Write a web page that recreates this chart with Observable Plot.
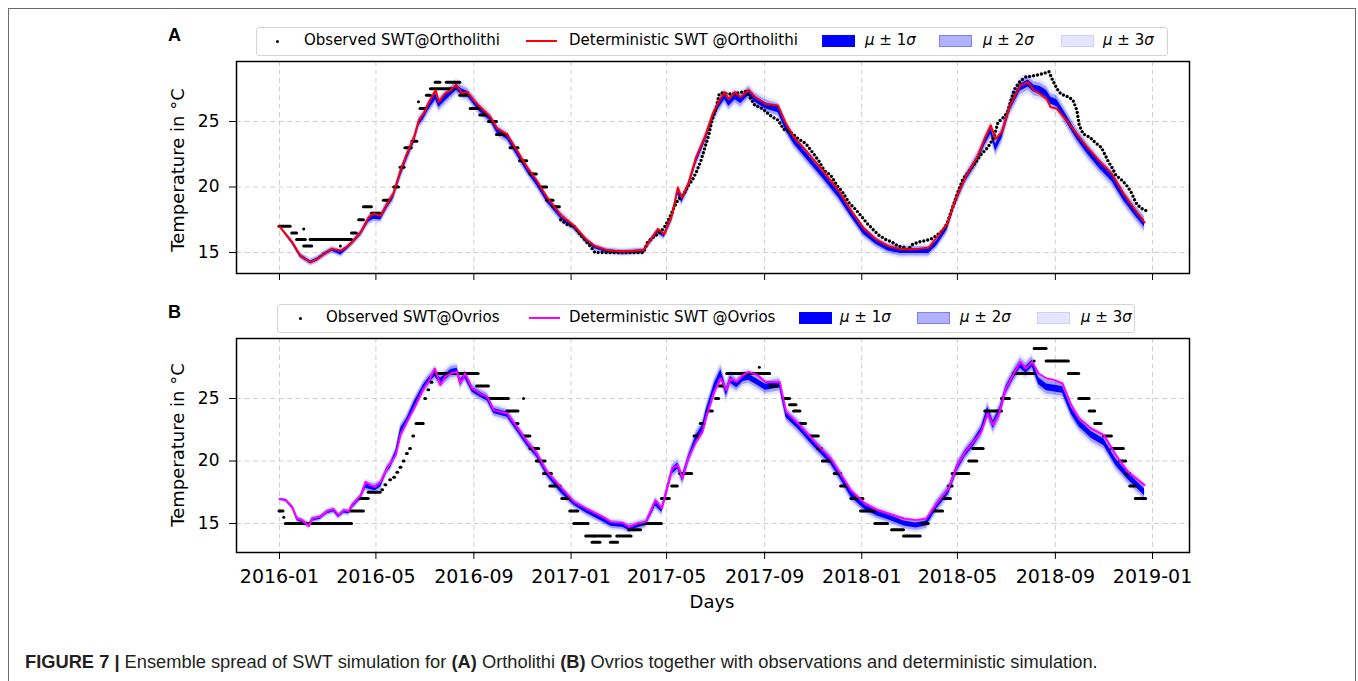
<!DOCTYPE html>
<html><head><meta charset="utf-8">
<script src="https://cdn.jsdelivr.net/npm/d3@7"></script>
<script src="https://cdn.jsdelivr.net/npm/@observablehq/plot@0.6"></script>
<style>
html,body{margin:0;padding:0;background:#fff;overflow:hidden;}
#root{position:relative;width:1358px;height:681px;overflow:hidden;font-family:"DejaVu Sans",sans-serif;color:#000;}
.abs{position:absolute;}
#border{left:8px;top:8px;width:1346px;height:720px;border:1px solid #6b6b6b;}
.svgwrap{position:absolute;left:0;}
.legend{position:absolute;height:27px;border:1px solid #d4d4d4;border-radius:3px;background:#fff;z-index:3;}
.lt{position:absolute;font-size:15px;line-height:18px;white-space:nowrap;z-index:4;}
.sw{position:absolute;width:33px;height:12px;z-index:4;box-sizing:border-box;}
.ln{position:absolute;width:31px;height:2px;z-index:4;}
.dt{position:absolute;width:3px;height:3px;border-radius:50%;background:#000;z-index:4;}
.plab{position:absolute;font-family:"Liberation Sans",Arial,sans-serif;font-weight:bold;font-size:18px;line-height:18px;z-index:4;}
.ylab{position:absolute;font-size:18px;line-height:20px;white-space:nowrap;transform:translate(-50%,-50%) rotate(-90deg);}
.xlab{position:absolute;font-size:18px;line-height:20px;white-space:nowrap;transform:translate(-50%,-50%);}
#caption{position:absolute;left:25px;top:652px;font-family:"Liberation Sans",Arial,sans-serif;font-size:18.3px;line-height:20px;color:#231f20;white-space:nowrap;}
</style>
</head><body>
<div id="root">
  <div id="border" class="abs"></div>
</div>
<script>
// ---------------- DATA ----------------
// days counted from 2016-01-01
const tickLabels = ["2016-01","2016-05","2016-09","2017-01","2017-05","2017-09","2018-01","2018-05","2018-09","2019-01"];
const yTicks = [15, 20, 25];

const legendLabelsA = ["Observed SWT@Ortholithi", "Deterministic SWT @Ortholithi"];
const legendLabelsB = ["Observed SWT@Ovrios", "Deterministic SWT @Ovrios"];
const bandLabels = ["1", "2", "3"];

// Panel A: deterministic simulation [day, °C]
const detA = [[0,17.0],[16,15.8],[26,14.77],[39,14.26],[47,14.5],[56,14.9],[66,15.28],[77,15.15],[85,15.46],[91,15.79],[102,16.55],[112,17.7],[118,17.96],[127,17.83],[135,18.7],[143,19.5],[152,21.3],[160,22.55],[169,23.8],[175,25.1],[181,25.6],[187,26.4],[196,27.4],[200,26.5],[208,27.15],[215,27.4],[222,27.8],[229,27.15],[236,27.27],[244,26.6],[252,26.1],[265,25.35],[273,24.5],[286,24.0],[298,22.8],[311,21.5],[323,20.5],[336,19.2],[354,17.8],[370,17.04],[385,16.0],[396,15.5],[411,15.18],[431,15.08],[457,15.18],[465,15.9],[475,16.8],[483,16.4],[493,17.9],[500,19.97],[505,19.2],[513,20.2],[523,22.27],[534,23.8],[544,25.6],[552,26.6],[559,27.24],[564,26.7],[572,27.24],[579,26.86],[589,27.42],[597,26.86],[610,26.35],[626,26.22],[636,24.82],[646,23.8],[661,22.78],[682,21.25],[702,19.72],[718,18.19],[733,16.9],[749,16.0],[764,15.5],[779,15.26],[800,15.26],[815,15.38],[825,16.15],[838,17.17],[848,18.95],[861,20.74],[876,22.27],[886,23.8],[893,24.7],[899,23.67],[907,24.2],[917,26.22],[930,27.76],[940,28.0],[947,27.37],[955,27.1],[963,26.73],[968,26.1],[976,25.97],[988,25.08],[1001,24.06],[1014,23.04],[1029,22.0],[1045,21.0],[1060,19.46],[1075,18.19],[1086,17.3]];

// Panel A: ensemble [day, mean, sigma]
const ensA = [[0,17.0,0.04],[16,15.75,0.09],[26,14.75,0.11],[39,14.25,0.11],[47,14.45,0.11],[56,14.85,0.11],[66,15.2,0.11],[77,14.95,0.13],[85,15.35,0.11],[91,15.7,0.11],[102,16.45,0.13],[112,17.5,0.16],[118,17.7,0.16],[127,17.65,0.16],[135,18.55,0.18],[143,19.3,0.18],[152,21.0,0.2],[160,22.3,0.2],[169,23.6,0.2],[175,24.9,0.2],[181,25.4,0.2],[187,26.1,0.23],[196,26.9,0.23],[200,26.3,0.23],[208,26.8,0.23],[215,27.2,0.23],[222,27.6,0.23],[229,27.25,0.23],[236,27.1,0.2],[244,26.5,0.2],[252,25.9,0.2],[265,25.2,0.18],[273,24.3,0.18],[286,23.8,0.18],[298,22.6,0.18],[311,21.3,0.18],[323,20.3,0.18],[336,19.0,0.18],[354,17.7,0.18],[370,16.9,0.13],[385,15.9,0.13],[396,15.4,0.11],[411,15.1,0.11],[431,15.0,0.11],[457,15.1,0.11],[465,15.8,0.13],[475,16.6,0.13],[483,16.3,0.13],[493,17.7,0.18],[500,19.6,0.18],[505,19.0,0.18],[513,20.0,0.18],[523,22.0,0.2],[534,23.6,0.2],[544,25.3,0.2],[552,26.3,0.23],[559,26.9,0.23],[564,26.4,0.23],[572,26.9,0.23],[579,26.6,0.23],[589,27.2,0.23],[597,26.7,0.23],[610,26.2,0.23],[626,25.9,0.23],[636,24.5,0.23],[646,23.5,0.23],[661,22.4,0.23],[682,20.9,0.23],[702,19.4,0.23],[718,17.9,0.2],[733,16.6,0.2],[749,15.8,0.18],[764,15.3,0.18],[779,15.1,0.18],[800,15.1,0.18],[815,15.1,0.18],[825,15.7,0.18],[838,16.9,0.2],[848,18.8,0.2],[861,20.6,0.2],[876,22.1,0.23],[886,23.5,0.23],[893,24.3,0.27],[899,23.0,0.27],[907,24.0,0.27],[917,26.1,0.27],[930,27.6,0.27],[940,27.9,0.27],[947,27.5,0.27],[955,27.4,0.27],[963,27.1,0.27],[968,26.6,0.27],[976,26.4,0.27],[988,25.2,0.27],[1001,23.9,0.27],[1014,22.8,0.27],[1029,21.7,0.27],[1045,20.7,0.27],[1060,19.2,0.27],[1075,18.0,0.27],[1086,17.2,0.27]];

// Panel A observations: runs [startDay, endDay, °C] (2016) and readings [day, °C] (2017-2018)
const obsRunsA = [[0,14,17.0],[16,22,16.5],[22,33,16.0],[31,31,16.8],[31,41,15.5],[39,91,16.0],[77,77,15.5],[91,97,16.5],[100,106,17.5],[106,116,18.5],[116,127,18.0],[131,139,19.0],[144,150,20.0],[152,157,21.5],[158,166,23.0],[167,173,23.5],[175,175,26.5],[177,184,26.0],[185,190,27.0],[190,219,27.5],[196,202,28.0],[210,227,28.0],[227,236,27.0],[240,252,26.0],[252,261,25.5],[263,273,25.0],[273,286,24.0],[290,300,23.0],[302,311,22.0],[315,323,21.0],[328,336,20.0],[336,344,19.0],[344,352,18.5]];
const obsPtsA = [[353,17.5],[362,17.1],[370,17.0],[376,16.5],[383,16.0],[390,15.5],[396,15.0],[457,15.0],[462,15.8],[470,16.2],[477,16.5],[483,16.9],[490,17.7],[495,18.4],[500,19.0],[508,19.5],[513,20.1],[518,20.5],[523,21.1],[529,22.0],[534,23.0],[539,24.0],[543,25.1],[548,26.0],[552,27.1],[557,27.2],[562,27.1],[569,27.1],[577,27.2],[585,27.3],[590,26.9],[597,26.2],[603,26.1],[610,25.8],[615,25.5],[620,25.3],[626,25.1],[633,24.4],[641,24.2],[651,23.7],[661,23.3],[669,22.65],[677,22.0],[684,21.25],[692,20.9],[700,20.1],[707,19.6],[715,18.8],[723,18.3],[730,17.8],[738,17.2],[746,16.7],[753,16.3],[761,16.0],[769,15.8],[776,15.5],[784,15.4],[789,15.2],[794,15.6],[802,15.8],[810,15.9],[817,16.0],[825,16.3],[833,16.7],[838,17.2],[843,18.1],[848,18.95],[853,19.85],[858,20.6],[866,21.25],[874,21.9],[881,22.5],[889,23.0],[897,23.8],[902,24.95],[907,25.2],[914,25.7],[922,27.4],[930,28.1],[937,28.4],[948,28.5],[958,28.65],[966,28.8],[971,28.1],[976,27.5],[981,27.1],[989,26.9],[996,26.65],[1001,25.85],[1004,24.7],[1009,24.05],[1017,23.8],[1024,23.4],[1032,23.0],[1040,22.0],[1045,21.5],[1050,20.9],[1058,20.5],[1065,20.0],[1070,19.5],[1075,18.8],[1081,18.4],[1088,18.2]];

// Panel B: deterministic simulation [day, °C]
const detB = [[0,16.95],[8,16.87],[16,16.33],[22,15.4],[28,15.27],[37,14.8],[41,15.4],[51,15.53],[60,15.99],[68,16.15],[74,15.67],[81,16.07],[87,15.99],[91,16.47],[102,17.27],[108,18.33],[114,18.07],[120,17.93],[127,18.33],[135,19.4],[139,19.8],[146,20.47],[152,22.07],[160,23.13],[169,24.2],[175,25.0],[181,25.8],[187,26.33],[195,27.4],[202,26.07],[208,26.73],[215,27.0],[223,27.13],[227,26.2],[233,27.0],[242,25.8],[252,25.4],[261,25.13],[269,24.07],[286,23.8],[298,22.73],[311,21.53],[323,20.6],[336,19.13],[354,17.85],[370,16.73],[385,16.2],[406,15.53],[416,15.13],[431,15.05],[439,14.73],[449,15.0],[460,15.13],[472,16.87],[480,16.2],[493,19.4],[500,19.67],[506,18.6],[513,20.2],[523,21.53],[531,22.33],[536,23.53],[546,25.53],[554,26.6],[561,25.67],[566,26.6],[574,26.33],[582,26.87],[589,27.13],[600,26.87],[610,26.33],[620,26.33],[628,26.33],[636,23.93],[651,23.0],[672,21.53],[692,20.2],[705,18.9],[718,17.6],[735,16.6],[750,16.1],[764,15.8],[784,15.4],[799,15.27],[812,15.4],[825,16.6],[840,17.8],[851,19.67],[861,20.73],[871,21.53],[881,22.33],[889,23.8],[896,22.87],[904,23.93],[912,25.8],[922,27.0],[930,27.93],[937,27.4],[945,27.93],[953,27.0],[963,26.6],[973,26.47],[983,26.2],[994,24.47],[1004,23.4],[1019,22.6],[1035,22.07],[1050,20.47],[1065,19.13],[1086,18.07]];

// Panel B: ensemble [day, mean, sigma]
const ensB = [[0,16.95,0.04],[8,16.85,0.07],[16,16.3,0.09],[22,15.35,0.11],[28,15.2,0.11],[37,14.85,0.11],[41,15.3,0.11],[51,15.45,0.11],[60,15.9,0.11],[68,16.05,0.11],[74,15.6,0.11],[81,15.95,0.11],[87,15.9,0.11],[91,16.35,0.13],[102,17.1,0.13],[108,18.0,0.18],[114,17.9,0.18],[120,17.8,0.18],[127,18.1,0.18],[135,19.3,0.18],[139,19.6,0.18],[146,20.6,0.2],[152,22.4,0.23],[160,23.2,0.23],[169,24.5,0.23],[175,25.2,0.23],[181,25.9,0.23],[187,26.4,0.23],[195,27.0,0.23],[202,26.4,0.23],[208,26.7,0.23],[215,27.1,0.23],[223,27.2,0.23],[227,26.3,0.23],[233,26.8,0.2],[242,25.7,0.2],[252,25.3,0.2],[261,25.0,0.2],[269,24.0,0.2],[286,23.7,0.2],[298,22.6,0.2],[311,21.4,0.2],[323,20.5,0.2],[336,19.0,0.2],[354,17.6,0.2],[370,16.6,0.16],[385,16.0,0.16],[406,15.3,0.16],[416,14.95,0.16],[431,14.85,0.16],[439,14.6,0.16],[449,14.8,0.16],[460,15.0,0.16],[472,16.6,0.2],[480,16.1,0.2],[493,19.2,0.24],[500,19.6,0.24],[506,18.6,0.24],[513,20.1,0.24],[523,21.8,0.27],[531,22.6,0.27],[536,23.9,0.27],[546,25.9,0.3],[554,27.0,0.3],[561,25.5,0.3],[566,26.5,0.27],[574,26.1,0.24],[582,26.6,0.24],[589,26.7,0.24],[600,26.3,0.24],[610,25.9,0.24],[620,26.0,0.24],[628,26.1,0.24],[636,23.7,0.24],[651,22.8,0.24],[672,21.3,0.24],[692,20.0,0.24],[705,18.7,0.24],[718,17.3,0.24],[735,16.3,0.2],[750,15.8,0.2],[764,15.5,0.2],[784,15.0,0.2],[799,14.85,0.2],[812,15.0,0.2],[825,16.4,0.24],[840,17.6,0.24],[851,19.5,0.24],[861,20.6,0.24],[871,21.4,0.24],[881,22.4,0.27],[889,24.0,0.3],[896,22.9,0.3],[904,23.9,0.3],[912,25.7,0.27],[922,26.9,0.27],[930,27.7,0.27],[937,27.3,0.27],[945,27.8,0.27],[953,26.4,0.27],[963,25.9,0.27],[973,25.8,0.27],[983,25.7,0.27],[994,24.0,0.27],[1004,23.0,0.27],[1019,22.1,0.27],[1035,21.5,0.27],[1050,19.9,0.27],[1065,18.8,0.27],[1086,17.5,0.27]];

// Panel B observations: runs [startDay, endDay, °C]
const obsRunsB = [[0,5,16.0],[6,6,15.5],[8,91,15.0],[89,106,16.0],[102,112,17.0],[112,127,17.5],[129,130,17.7],[133,134,18.1],[139,140,18.5],[144,145,18.7],[148,149,19.1],[152,153,19.5],[156,157,20.0],[160,161,20.6],[164,165,21.0],[168,169,22.0],[172,181,23.0],[183,184,25.0],[187,188,25.7],[191,192,26.3],[194,250,27.0],[248,263,26.0],[263,288,25.0],[286,300,24.0],[298,300,23.0],[307,307,25.0],[307,315,22.0],[315,326,21.0],[323,334,20.0],[332,342,19.0],[340,353,18.0],[355,365,17.0],[365,375,16.0],[370,388,15.0],[385,396,14.0],[393,403,13.5],[396,416,14.0],[416,425,13.5],[424,442,14.0],[439,454,14.5],[452,480,15.0],[480,490,17.0],[493,500,18.0],[503,518,19.0],[521,526,22.0],[529,534,23.0],[538,544,24.0],[548,552,25.0],[553,558,26.0],[562,616,27.0],[603,603,27.5],[616,626,26.0],[633,641,25.0],[641,649,24.5],[646,654,24.0],[654,661,23.0],[667,677,22.0],[676,681,21.0],[682,692,20.0],[697,705,19.0],[705,713,18.0],[718,733,17.0],[730,748,16.0],[748,764,15.0],[769,784,14.5],[784,805,14.0],[807,815,15.0],[820,833,16.0],[833,843,17.0],[840,845,18.0],[845,866,19.0],[866,876,20.0],[871,884,21.0],[886,907,24.0],[907,917,25.0],[922,948,27.0],[948,948,28.0],[948,963,29.0],[963,991,28.0],[991,1004,27.0],[1004,1017,25.0],[1017,1024,24.0],[1024,1032,23.0],[1035,1045,22.0],[1045,1060,21.0],[1055,1063,20.0],[1063,1068,19.0],[1068,1075,18.0],[1075,1088,17.0]];

// ---------------- DRAWING ----------------
const base = Date.UTC(2016, 0, 1);
const toDate = d => new Date(base + d * 864e5);
const tickDates = tickLabels.map(s => new Date(s + "-01T00:00:00Z"));
const fmt = d3.utcFormat("%Y-%m");
const root = document.getElementById("root");

function panel(o) {
  const ens = o.ens.map(([d, m, s]) => ({date: toDate(d), m, s}));
  const band = (k, op) => Plot.areaY(ens, {x: "date", y1: d => d.m - k * d.s, y2: d => d.m + k * d.s, fill: "#0000ff", fillOpacity: op});
  const marks = [
    Plot.gridX(tickDates, {stroke: "#cfcfcf", strokeOpacity: 1, strokeWidth: 1, strokeDasharray: "5,3.5"}),
    Plot.gridY(yTicks, {stroke: "#cfcfcf", strokeOpacity: 1, strokeWidth: 1, strokeDasharray: "5,3.5"}),
    band(3, 0.1), band(2, 0.3), band(1, 1),
    Plot.ruleY(o.runs, {y: d => d[2], x1: d => toDate(d[0]), x2: d => toDate(d[1]), stroke: "#000", strokeWidth: 3, strokeLinecap: "round"}),
  ];
  if (o.pts) marks.push(Plot.line(o.pts, {x: d => toDate(d[0]), y: d => d[1], stroke: "#000", strokeWidth: 3.4, strokeDasharray: "0,4", strokeLinecap: "round"}));
  marks.push(
    Plot.line(o.det, {x: d => toDate(d[0]), y: d => d[1], stroke: o.color, strokeWidth: 2}),
    Plot.frame({stroke: "#000", strokeWidth: 1.5}),
    Plot.axisY(yTicks, {tickSize: 7, tickPadding: 10, fontSize: 17, label: null}),
    Plot.axisX(tickDates, {tickSize: 7, tickPadding: 10, fontSize: 19, label: null, tickFormat: o.labels ? fmt : () => ""})
  );
  const svg = Plot.plot({
    width: 1358, height: o.height,
    marginLeft: 236, marginRight: 169, marginTop: 11, marginBottom: o.mb,
    x: {type: "utc", domain: [toDate(-54), toDate(1142.4)]},
    y: {domain: o.yDomain},
    style: {background: "transparent", fontFamily: "DejaVu Sans", color: "#000", overflow: "visible"},
    marks
  });
  const w = document.createElement("div");
  w.className = "svgwrap";
  w.style.top = o.top + "px";
  w.appendChild(svg);
  root.appendChild(w);
}

panel({det: detA, ens: ensA, runs: obsRunsA, pts: obsPtsA, color: "#ff0000", yDomain: [13.4, 29.58], top: 50, height: 250, mb: 27, labels: false});
panel({det: detB, ens: ensB, runs: obsRunsB, pts: null, color: "#ff00ff", yDomain: [12.68, 29.8], top: 327, height: 293, mb: 68, labels: true});

function el(cls, css, html) {
  const e = document.createElement("div");
  e.className = cls;
  Object.assign(e.style, css);
  if (html != null) e.innerHTML = html;
  root.appendChild(e);
  return e;
}
const sigmaText = k => `<i>μ</i> ± ${k}<i>σ</i>`;
function legend(L) {
  el("legend", {left: L.box[0] + "px", top: L.box[1] + "px", width: L.box[2] + "px"});
  const cy = L.box[1] + 14;
  el("dt", {left: (L.x[0] - 1.5) + "px", top: (cy - 1.5) + "px"});
  el("lt", {left: L.x[1] + "px", top: (cy - 10) + "px"}, L.labels[0]);
  el("ln", {left: L.x[2] + "px", top: (cy - 1) + "px", background: L.color});
  el("lt", {left: L.x[3] + "px", top: (cy - 10) + "px"}, L.labels[1]);
  const sw = [["#0000ff", "#0000ff"], ["rgba(0,0,255,0.3)", "rgba(0,0,255,0.3)"], ["rgba(0,0,255,0.1)", "rgba(0,0,255,0.1)"]];
  for (let i = 0; i < 3; i++) {
    el("sw", {left: L.x[4 + 2 * i] + "px", top: (cy - 6) + "px", background: sw[i][0], border: "1px solid " + sw[i][1]});
    el("lt", {left: L.x[5 + 2 * i] + "px", top: (cy - 10) + "px"}, sigmaText(bandLabels[i]));
  }
}
legend({box: [256, 27, 910], labels: legendLabelsA, color: "#ff0000", x: [277, 304, 526, 569, 822, 865, 939, 983, 1061, 1103]});
legend({box: [277, 304, 856], labels: legendLabelsB, color: "#ff00ff", x: [300, 326, 529, 569, 799, 840, 917, 960, 1037, 1081]});

el("plab", {left: "168px", top: "26px"}, "A");
el("plab", {left: "168px", top: "303px"}, "B");
el("ylab", {left: "178px", top: "170px"}, "Temperature in °C");
el("ylab", {left: "178px", top: "445px"}, "Temperature in °C");
el("xlab", {left: "712px", top: "602px"}, "Days");
const cap = el("", {}, "<b>FIGURE 7 |</b> Ensemble spread of SWT simulation for <b>(A)</b> Ortholithi <b>(B)</b> Ovrios together with observations and deterministic simulation.");
cap.id = "caption";
</script>
</body></html>
